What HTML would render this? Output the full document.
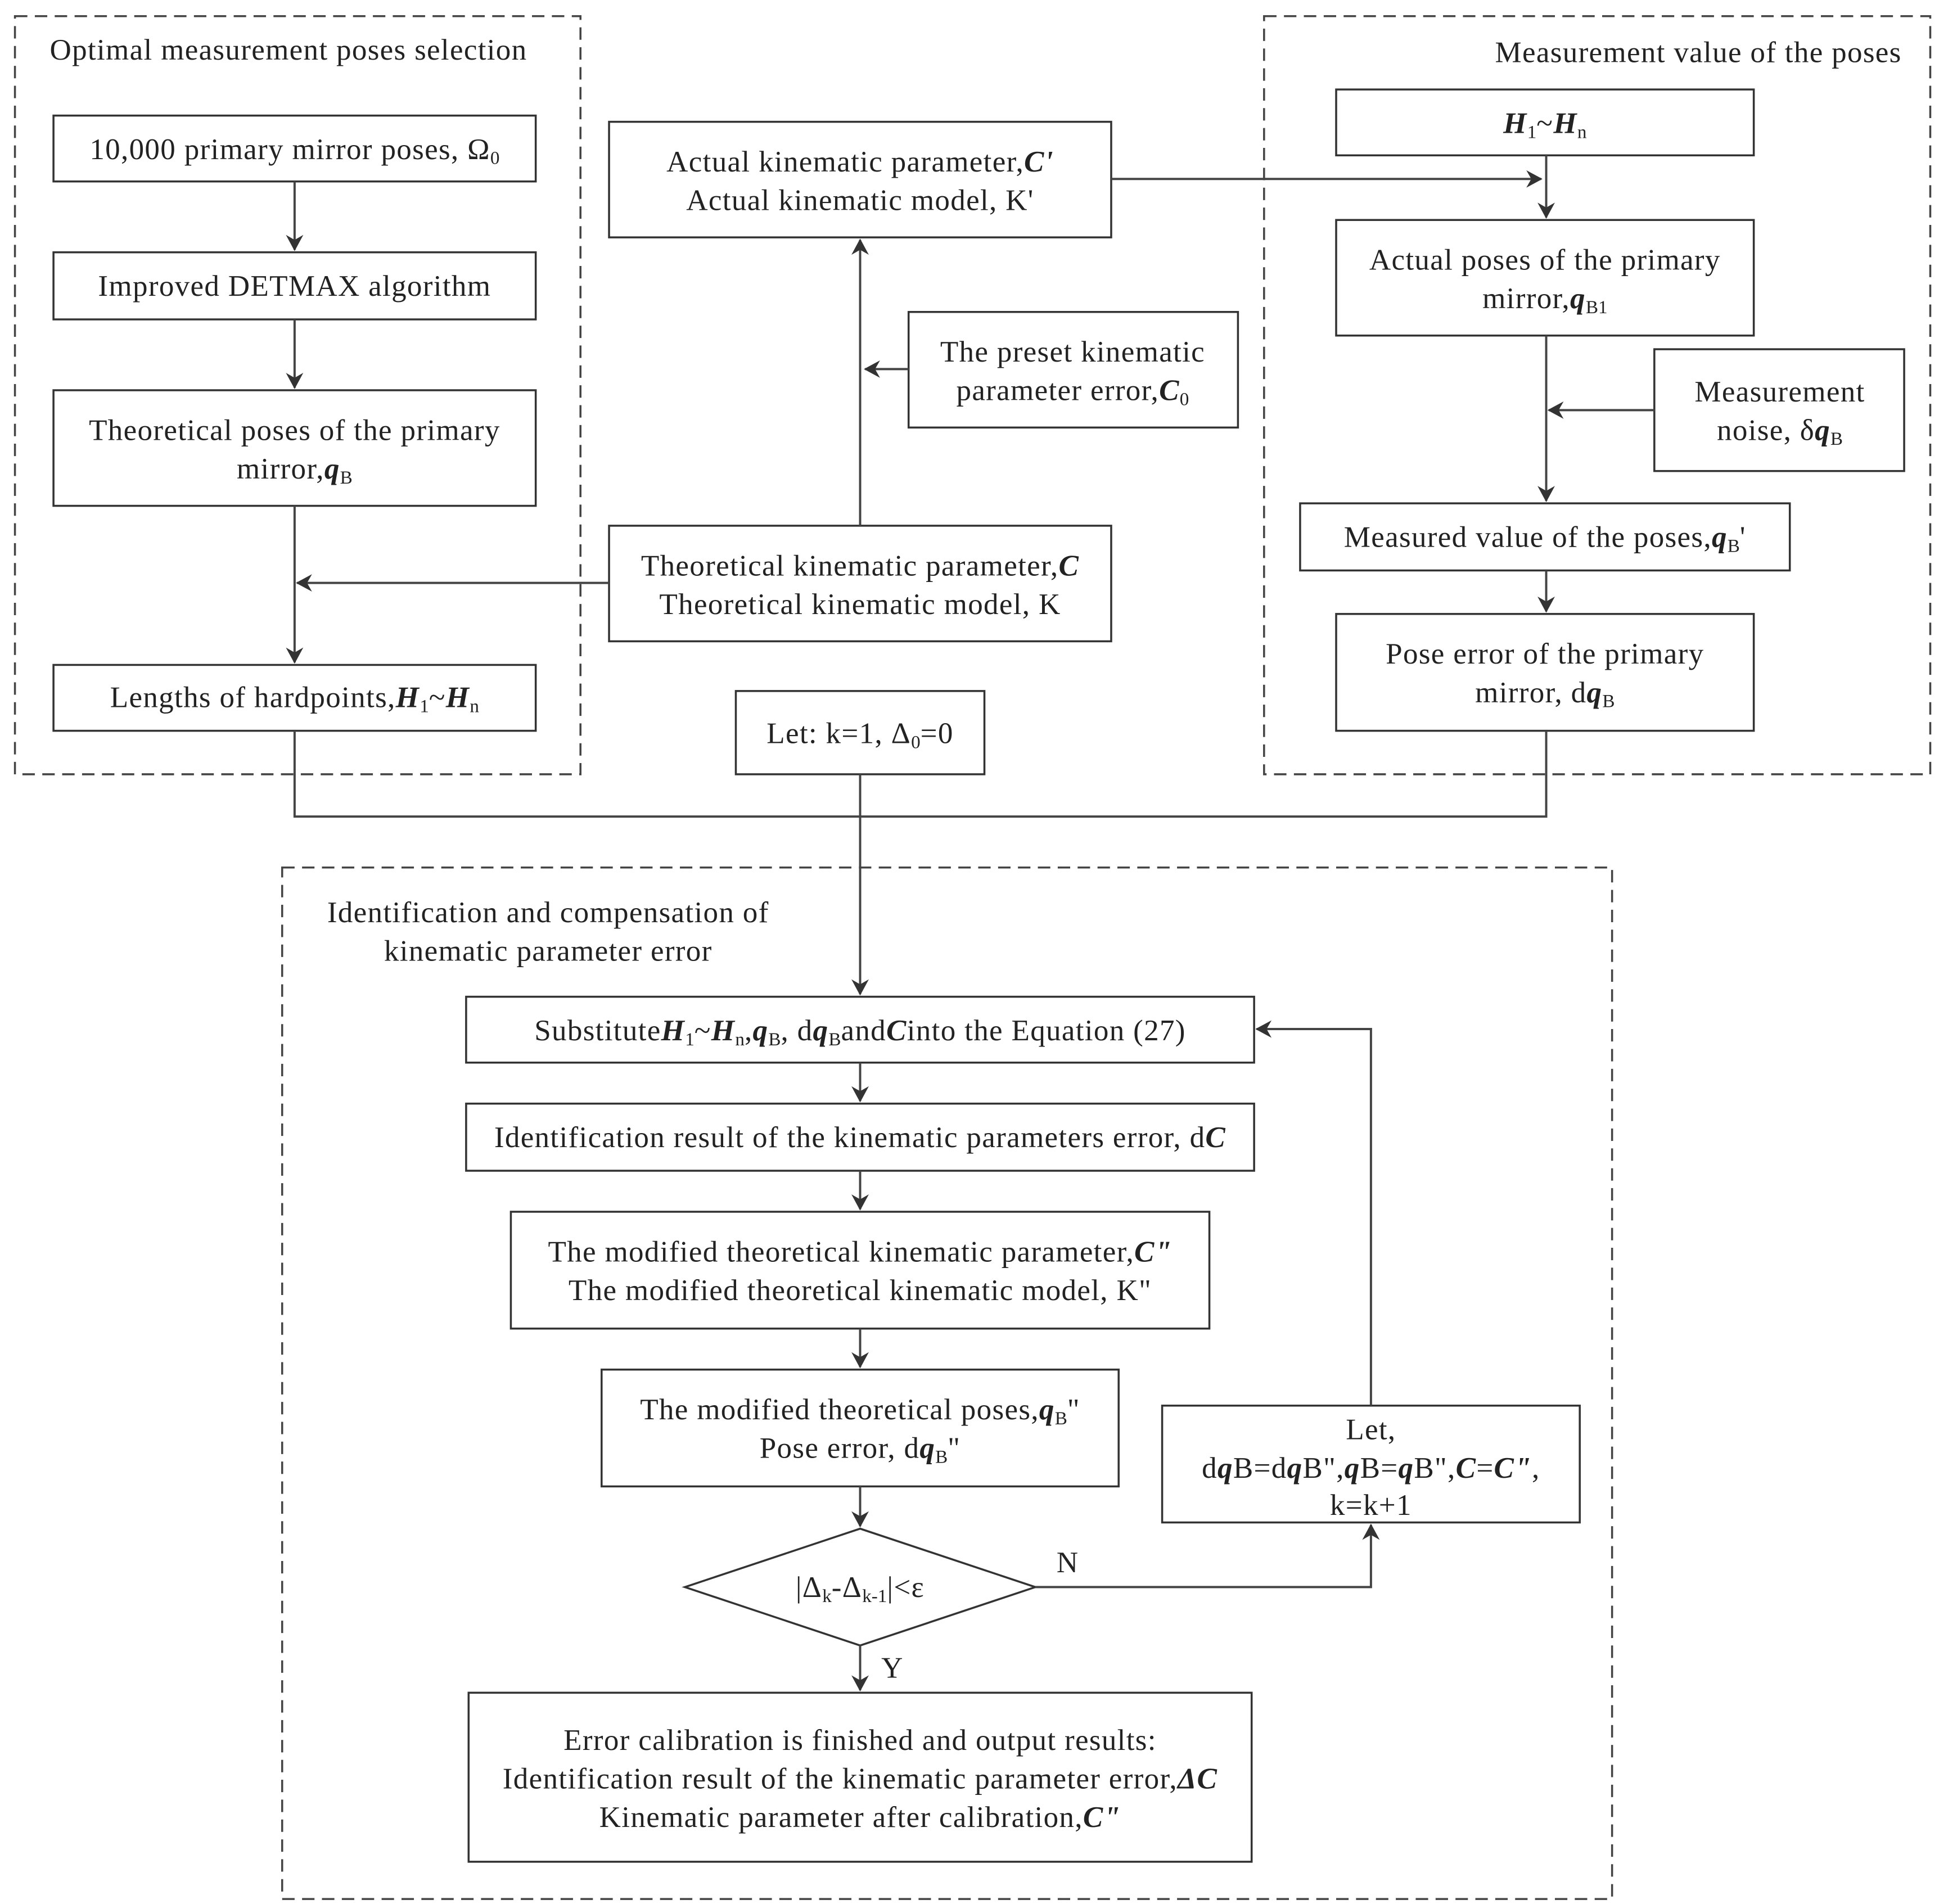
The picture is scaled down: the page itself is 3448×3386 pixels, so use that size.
<!DOCTYPE html>
<html><head><meta charset="utf-8"><style>
html,body{margin:0;padding:0;background:#fff}
svg{display:block}
text{font-family:"Liberation Serif","Times New Roman",serif;font-size:24px;letter-spacing:0.6px;fill:#222}
.bi{font-weight:bold;font-style:italic}
.s{font-size:15px;letter-spacing:0}
</style></head><body>
<svg width="3448" height="3386" viewBox="0 0 1560 1532" xmlns="http://www.w3.org/2000/svg">
<defs>
<marker id="a" markerWidth="14" markerHeight="14" refX="12" refY="7" orient="auto" markerUnits="userSpaceOnUse">
<path d="M0,0 L13,7 L0,14 L4,7 Z" fill="#333"/>
</marker>
</defs>
<g fill="none" stroke="#444" stroke-width="1.6" stroke-dasharray="10,6">
<rect x="12" y="13" width="455" height="610"/>
<rect x="1017" y="13" width="536" height="610"/>
<rect x="227" y="698" width="1070" height="830"/>
</g>
<g fill="#fff" stroke="#333" stroke-width="1.6">
<rect x="43" y="93" width="388" height="53"/>
<rect x="43" y="203" width="388" height="54"/>
<rect x="43" y="314" width="388" height="93"/>
<rect x="43" y="535" width="388" height="53"/>
<rect x="490" y="98" width="404" height="93"/>
<rect x="731" y="251" width="265" height="93"/>
<rect x="490" y="423" width="404" height="93"/>
<rect x="592" y="556" width="200" height="67"/>
<rect x="1075" y="72" width="336" height="53"/>
<rect x="1075" y="177" width="336" height="93"/>
<rect x="1331" y="281" width="201" height="98"/>
<rect x="1046" y="405" width="394" height="54"/>
<rect x="1075" y="494" width="336" height="94"/>
<rect x="375" y="802" width="634" height="53"/>
<rect x="375" y="888" width="634" height="54"/>
<rect x="411" y="975" width="562" height="94"/>
<rect x="484" y="1102" width="416" height="94"/>
<rect x="935" y="1131" width="336" height="94"/>
<rect x="377" y="1362" width="630" height="136"/>
<polygon points="551,1277 692,1230 833,1277 692,1324"/>
</g>
<g fill="none" stroke="#444" stroke-width="1.8">
<line x1="237" y1="146" x2="237" y2="201" marker-end="url(#a)"/>
<line x1="237" y1="257" x2="237" y2="312" marker-end="url(#a)"/>
<line x1="237" y1="407" x2="237" y2="533" marker-end="url(#a)"/>
<line x1="490" y1="469" x2="239" y2="469" marker-end="url(#a)"/>
<line x1="692" y1="423" x2="692" y2="193" marker-end="url(#a)"/>
<line x1="731" y1="297" x2="696" y2="297" marker-end="url(#a)"/>
<polyline points="237,588 237,657 1244,657 1244,588"/>
<line x1="692" y1="623" x2="692" y2="800" marker-end="url(#a)"/>
<line x1="894" y1="144" x2="1240" y2="144" marker-end="url(#a)"/>
<line x1="1244" y1="125" x2="1244" y2="175" marker-end="url(#a)"/>
<line x1="1244" y1="270" x2="1244" y2="403" marker-end="url(#a)"/>
<line x1="1331" y1="330" x2="1246" y2="330" marker-end="url(#a)"/>
<line x1="1244" y1="459" x2="1244" y2="492" marker-end="url(#a)"/>
<line x1="692" y1="855" x2="692" y2="886" marker-end="url(#a)"/>
<line x1="692" y1="942" x2="692" y2="973" marker-end="url(#a)"/>
<line x1="692" y1="1069" x2="692" y2="1100" marker-end="url(#a)"/>
<line x1="692" y1="1196" x2="692" y2="1228" marker-end="url(#a)"/>
<line x1="692" y1="1324" x2="692" y2="1360" marker-end="url(#a)"/>
<polyline points="833,1277 1103,1277 1103,1227" marker-end="url(#a)"/>
<polyline points="1103,1131 1103,828 1011,828" marker-end="url(#a)"/>
</g>
<text x="40" y="48">Optimal measurement poses selection</text>
<text x="1530" y="50" text-anchor="end">Measurement value of the poses</text>
<text x="441" y="742" text-anchor="middle">Identification and compensation of</text>
<text x="441" y="773" text-anchor="middle">kinematic parameter error</text>
<text x="237" y="128" text-anchor="middle">10,000 primary mirror poses, Ω<tspan class="s" dy="4">0</tspan></text>
<text x="237" y="238" text-anchor="middle">Improved DETMAX algorithm</text>
<text x="237" y="354" text-anchor="middle">Theoretical poses of the primary</text>
<text x="237" y="385" text-anchor="middle">mirror,<tspan class="bi">q</tspan><tspan class="s" dy="4">B</tspan></text>
<text x="237" y="569" text-anchor="middle">Lengths of hardpoints,<tspan class="bi">H</tspan><tspan class="s" dy="4">1</tspan><tspan dy="-4">~</tspan><tspan class="bi">H</tspan><tspan class="s" dy="4">n</tspan></text>
<text x="692" y="138" text-anchor="middle">Actual kinematic parameter,<tspan class="bi">C'</tspan></text>
<text x="692" y="169" text-anchor="middle">Actual kinematic model, K'</text>
<text x="863" y="291" text-anchor="middle">The preset kinematic</text>
<text x="863" y="322" text-anchor="middle">parameter error,<tspan class="bi">C</tspan><tspan class="s" dy="4">0</tspan></text>
<text x="692" y="463" text-anchor="middle">Theoretical kinematic parameter,<tspan class="bi">C</tspan></text>
<text x="692" y="494" text-anchor="middle">Theoretical kinematic model, K</text>
<text x="692" y="598" text-anchor="middle">Let: k=1, Δ<tspan class="s" dy="4">0</tspan><tspan dy="-4">=0</tspan></text>
<text x="1243" y="107" text-anchor="middle"><tspan class="bi">H</tspan><tspan class="s" dy="4">1</tspan><tspan dy="-4">~</tspan><tspan class="bi">H</tspan><tspan class="s" dy="4">n</tspan></text>
<text x="1243" y="217" text-anchor="middle">Actual poses of the primary</text>
<text x="1243" y="248" text-anchor="middle">mirror,<tspan class="bi">q</tspan><tspan class="s" dy="4">B1</tspan></text>
<text x="1432" y="323" text-anchor="middle">Measurement</text>
<text x="1432" y="354" text-anchor="middle">noise, δ<tspan class="bi">q</tspan><tspan class="s" dy="4">B</tspan></text>
<text x="1243" y="440" text-anchor="middle">Measured value of the poses,<tspan class="bi">q</tspan><tspan class="s" dy="4">B</tspan><tspan dy="-4">'</tspan></text>
<text x="1243" y="534" text-anchor="middle">Pose error of the primary</text>
<text x="1243" y="565" text-anchor="middle">mirror, d<tspan class="bi">q</tspan><tspan class="s" dy="4">B</tspan></text>
<text x="692" y="837" text-anchor="middle">Substitute<tspan class="bi">H</tspan><tspan class="s" dy="4">1</tspan><tspan dy="-4">~</tspan><tspan class="bi">H</tspan><tspan class="s" dy="4">n</tspan><tspan dy="-4">,</tspan><tspan class="bi">q</tspan><tspan class="s" dy="4">B</tspan><tspan dy="-4">, d</tspan><tspan class="bi">q</tspan><tspan class="s" dy="4">B</tspan><tspan dy="-4">and</tspan><tspan class="bi">C</tspan>into the Equation (27)</text>
<text x="692" y="923" text-anchor="middle">Identification result of the kinematic parameters error, d<tspan class="bi">C</tspan></text>
<text x="692" y="1015" text-anchor="middle">The modified theoretical kinematic parameter,<tspan class="bi">C"</tspan></text>
<text x="692" y="1046" text-anchor="middle">The modified theoretical kinematic model, K"</text>
<text x="692" y="1142" text-anchor="middle">The modified theoretical poses,<tspan class="bi">q</tspan><tspan class="s" dy="4">B</tspan><tspan dy="-4">"</tspan></text>
<text x="692" y="1173" text-anchor="middle">Pose error, d<tspan class="bi">q</tspan><tspan class="s" dy="4">B</tspan><tspan dy="-4">"</tspan></text>
<text x="1103" y="1158" text-anchor="middle">Let,</text>
<text x="1103" y="1189" text-anchor="middle">d<tspan class="bi">q</tspan>B=d<tspan class="bi">q</tspan>B",<tspan class="bi">q</tspan>B=<tspan class="bi">q</tspan>B",<tspan class="bi">C</tspan>=<tspan class="bi">C"</tspan>,</text>
<text x="1103" y="1219" text-anchor="middle">k=k+1</text>
<text x="692" y="1285" text-anchor="middle">|Δ<tspan class="s" dy="4">k</tspan><tspan dy="-4">-Δ</tspan><tspan class="s" dy="4">k-1</tspan><tspan dy="-4">|&lt;ε</tspan></text>
<text x="850" y="1265">N</text>
<text x="709" y="1350">Y</text>
<text x="692" y="1408" text-anchor="middle">Error calibration is finished and output results:</text>
<text x="692" y="1439" text-anchor="middle">Identification result of the kinematic parameter error,<tspan class="bi">ΔC</tspan></text>
<text x="692" y="1470" text-anchor="middle">Kinematic parameter after calibration,<tspan class="bi">C"</tspan></text>
</svg>
</body></html>
